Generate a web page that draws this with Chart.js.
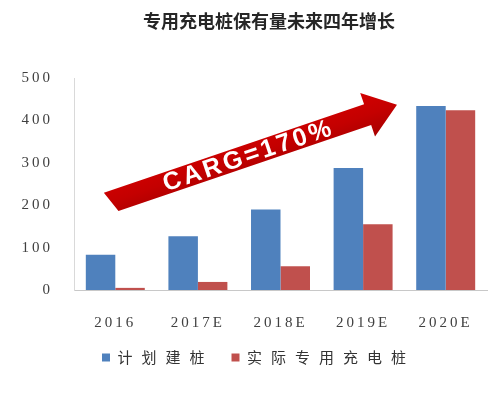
<!DOCTYPE html>
<html><head><meta charset="utf-8">
<script src="https://cdn.jsdelivr.net/npm/chart.js@4/dist/chart.umd.min.js"></script>
<style>html,body{margin:0;padding:0;background:#fff}</style>
</head><body>
<canvas id="c" width="500" height="396"></canvas>
<script>
// ---- data ----
const chartTitle = '专用充电桩保有量未来四年增长';
const categories = ['2016', '2017E', '2018E', '2019E', '2020E'];
const seriesNames = ['计划建桩', '实际专用充电桩'];
const plannedPiles = [83, 127, 190, 288, 434];
const actualPiles = [5, 19, 56, 155, 424];
const yTickValues = [0, 100, 200, 300, 400, 500];
const arrowLabel = 'CARG=170%';
// arrow annotation, in data space (category index, value)
const arrowFrom = { x: -0.05, y: 208 };
const arrowTo = { x: 3.41, y: 437 };

const spacingPlugin = {
  id: 'spacing',
  afterInit(chart) {
    const lg = chart.legend;
    if (!lg) return;
    const wrap = (fn) => function () {
      const ctx = this.ctx;
      const prev = ctx.letterSpacing;
      ctx.letterSpacing = '9px';
      const r = fn.apply(this, arguments);
      ctx.letterSpacing = prev;
      return r;
    };
    lg.fit = wrap(lg.fit);
    lg.draw = wrap(lg.draw);
  },
  beforeLayout(chart) { chart.ctx.letterSpacing = '3px'; },
  afterLayout(chart) {
    const lg = chart.legend;
    if (lg) { lg.left += 10; lg.right += 10; }
  },
  beforeDraw(chart) { chart.ctx.letterSpacing = '3px'; }
};

const titlePlugin = {
  id: 'customTitle',
  afterDraw(chart) {
    const ctx = chart.ctx;
    ctx.save();
    ctx.letterSpacing = '0px';
    ctx.font = 'bold 18px "Noto Sans CJK SC"';
    ctx.fillStyle = '#262626';
    ctx.textAlign = 'center';
    ctx.textBaseline = 'middle';
    ctx.fillText(chartTitle, 269, 21);
    ctx.restore();
  }
};

const arrowPlugin = {
  id: 'arrow',
  afterDatasetsDraw(chart) {
    const { ctx, scales: { x, y } } = chart;
    const x0 = x.getPixelForValue(arrowFrom.x), y0 = y.getPixelForValue(arrowFrom.y);
    const x1 = x.getPixelForValue(arrowTo.x), y1 = y.getPixelForValue(arrowTo.y);
    const L = Math.hypot(x1 - x0, y1 - y0);
    const ang = Math.atan2(y1 - y0, x1 - x0);
    const sw = 11, hw = 23, hl = 31;
    ctx.save();
    ctx.translate(x0, y0);
    ctx.rotate(ang);
    ctx.beginPath();
    ctx.moveTo(-4, -sw);
    ctx.lineTo(L - hl, -sw);
    ctx.lineTo(L - hl, -hw);
    ctx.lineTo(L, 0);
    ctx.lineTo(L - hl, hw);
    ctx.lineTo(L - hl, sw);
    ctx.lineTo(4, sw);
    ctx.closePath();
    const g = ctx.createLinearGradient(0, -hw, 0, hw);
    g.addColorStop(0, '#d20000');
    g.addColorStop(0.5, '#c40000');
    g.addColorStop(1, '#a80000');
    ctx.fillStyle = g;
    ctx.fill();
    ctx.letterSpacing = '3px';
    ctx.font = 'bold 25px "Liberation Sans"';
    ctx.fillStyle = '#ffffff';
    ctx.textAlign = 'center';
    ctx.textBaseline = 'middle';
    ctx.fillText(arrowLabel, L * 0.48, 1);
    ctx.restore();
  }
};

new Chart(document.getElementById('c'), {
  type: 'bar',
  data: {
    labels: categories,
    datasets: [
      { label: seriesNames[0], data: plannedPiles, backgroundColor: '#4f81bd' },
      { label: seriesNames[1], data: actualPiles, backgroundColor: '#c0504d' }
    ]
  },
  options: {
    responsive: false,
    animation: false,
    devicePixelRatio: 1,
    layout: { padding: { left: 10, right: 13, top: 78, bottom: 21 } },
    datasets: { bar: { categoryPercentage: 0.714, barPercentage: 1.0 } },
    scales: {
      x: {
        afterFit(scale) { scale.height = 42; },
        grid: { display: false, drawTicks: false },
        border: { display: true, color: '#c8c8c8', width: 1 },
        ticks: { font: { family: '"Liberation Serif"', size: 15 }, color: '#404040', padding: 24 }
      },
      y: {
        min: 0, max: 500,
        afterBuildTicks(scale) { scale.ticks = yTickValues.map(v => ({ value: v })); },
        afterFit(scale) { scale.width = 64; },
        grid: { display: false, drawTicks: false },
        border: { display: true, color: '#d9d9d9', width: 1 },
        ticks: { font: { family: '"Liberation Serif"', size: 15 }, color: '#404040', padding: 21 }
      }
    },
    plugins: {
      title: { display: false },
      tooltip: { enabled: false },
      legend: {
        position: 'bottom',
        labels: {
          boxWidth: 8, boxHeight: 8, padding: 18,
          color: '#333333',
          font: { family: '"Noto Sans CJK SC"', size: 15 }
        }
      }
    }
  },
  plugins: [spacingPlugin, arrowPlugin, titlePlugin]
});
</script>
</body></html>
